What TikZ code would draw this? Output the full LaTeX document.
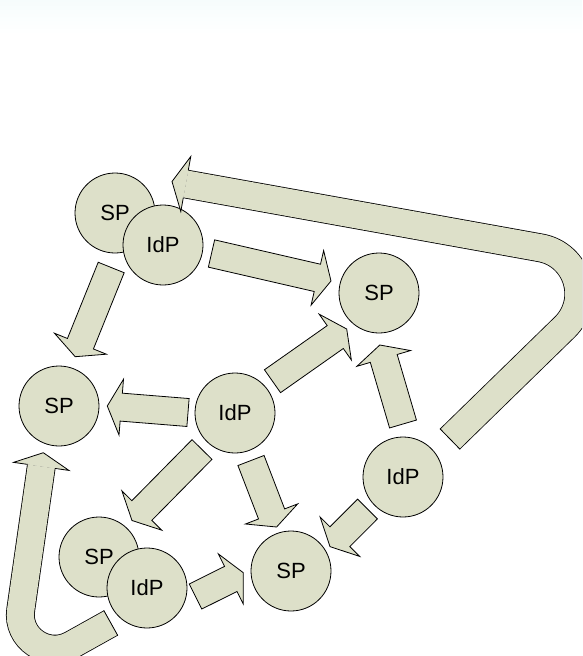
\documentclass[tikz,border=0pt]{standalone}
\usepackage{fontspec}
\setmainfont{Liberation Sans}
\usetikzlibrary{calc}
\definecolor{shapefill}{RGB}{221,224,201}
\definecolor{topband}{RGB}{246,252,252}
\tikzset{
  station/.style={circle, draw=black, fill=shapefill, line width=0.8pt, minimum size=80pt, inner sep=0pt, font=\fontsize{22}{22}\selectfont},
  barrow/.style={draw=black, fill=shapefill, line width=0.8pt, line join=miter},
  bandout/.style={draw=black, line width=28.8pt},
  bandin/.style={draw=shapefill, line width=27.2pt},
  thinline/.style={draw=black, line width=0.8pt},
}
% straight block arrow from #1 (middle of tail) to #2 (tip)
\newcommand{\blockarr}[2]{%
  \coordinate (hb) at ($(#2)!14pt!(#1)$);
  \filldraw[barrow] ($(#1)!14pt!90:(#2)$) -- ($(hb)!14pt!-90:(#1)$) -- ($(hb)!28pt!-90:(#1)$) -- (#2)
     -- ($(hb)!28pt!90:(#1)$) -- ($(hb)!14pt!90:(#1)$) -- ($(#1)!14pt!-90:(#2)$) -- cycle;
}
% head of a curved band arrow: #1 base, #2 tip
\newcommand{\bandhead}[2]{%
  \fill[shapefill] ($(#1)!14pt!90:(#2)$) -- ($(#1)!28pt!90:(#2)$) -- (#2) -- ($(#1)!28pt!-90:(#2)$) -- ($(#1)!14pt!-90:(#2)$) -- cycle;
  \draw[thinline, line join=miter] ($(#1)!14pt!90:(#2)$) -- ($(#1)!28pt!90:(#2)$) -- (#2) -- ($(#1)!28pt!-90:(#2)$) -- ($(#1)!14pt!-90:(#2)$);
}
\newcommand{\bandtail}[2]{%
  \draw[thinline] ($(#1)!14.4pt!90:(#2)$) -- ($(#1)!14.4pt!-90:(#2)$);
}
\begin{document}
\begin{tikzpicture}[x=1pt,y=-1pt]
\useasboundingbox (0,0) rectangle (582,656);
\clip (0,0) rectangle (582,656);
\shade[top color=topband, bottom color=white] (0,0) rectangle (582,34);

% circles
\node[station] (spA) at (115,213) {SP};
\node[station] (idA) at (163,245) {IdP};
\node[station] (spB) at (379,293) {SP};
\node[station] (spC) at (59,406) {SP};
\node[station] (idB) at (235,413) {IdP};
\node[station] (idC) at (403,477) {IdP};
\node[station] (spD) at (99,557) {SP};
\node[station] (idD) at (147,588) {IdP};
\node[station] (spE) at (291,571) {SP};

% straight arrows
\coordinate (a1s) at (111.2,267.5); \coordinate (a1e) at (75.2,356.7);
\coordinate (a2s) at (211.5,253.5); \coordinate (a2e) at (331,281);
\coordinate (a3s) at (272.5,381.2); \coordinate (a3e) at (346.7,329);
\coordinate (a4s) at (403,424);     \coordinate (a4e) at (379.8,345);
\coordinate (a5s) at (188,412.5);   \coordinate (a5e) at (107.3,406);
\coordinate (a6s) at (202,449.5);   \coordinate (a6e) at (132,520.5);
\coordinate (a7s) at (251,460.5);   \coordinate (a7e) at (276.6,527);
\coordinate (a8s) at (367.5,509);   \coordinate (a8e) at (330,546.6);
\coordinate (a9s) at (195.5,596.5); \coordinate (a9e) at (243.3,572.7);
\blockarr{a1s}{a1e}
\blockarr{a2s}{a2e}
\blockarr{a3s}{a3e}
\blockarr{a4s}{a4e}
\blockarr{a5s}{a5e}
\blockarr{a6s}{a6e}
\blockarr{a7s}{a7e}
\blockarr{a8s}{a8e}
\blockarr{a9s}{a9e}

% top curved arrow (from IdP right back to IdP top)
\coordinate (ct0) at (450,439);
\coordinate (ct1) at (564.4,327.4);
\coordinate (ctc1) at (591.9,300.8);
\coordinate (ctc2) at (577.9,254.6);
\coordinate (ct2) at (540.3,247.8);
\coordinate (cth) at (185.8,184);
\coordinate (ctip) at (172,181.5);
\draw[bandout] (ct0) -- (ct1) .. controls (ctc1) and (ctc2) .. (ct2) -- (cth);
\draw[bandin] (ct0) -- (ct1) .. controls (ctc1) and (ctc2) .. (ct2) -- (cth);
\bandtail{ct0}{ct1}
\bandhead{cth}{ctip}

% bottom curved arrow (from IdP bottom back to SP left)
\coordinate (cb0) at (110.8,623);
\coordinate (cb1) at (71.7,644.8);
\coordinate (cbc1) at (46.9,658.6);
\coordinate (cbc2) at (16.7,638.1);
\coordinate (cb2) at (20.7,610);
\coordinate (cbh) at (41.3,466.4);
\coordinate (cbtip) at (43.3,452.7);
\draw[bandout] (cb0) -- (cb1) .. controls (cbc1) and (cbc2) .. (cb2) -- (cbh);
\draw[bandin] (cb0) -- (cb1) .. controls (cbc1) and (cbc2) .. (cb2) -- (cbh);
\bandtail{cb0}{cb1}
\bandhead{cbh}{cbtip}
\end{tikzpicture}
\end{document}
